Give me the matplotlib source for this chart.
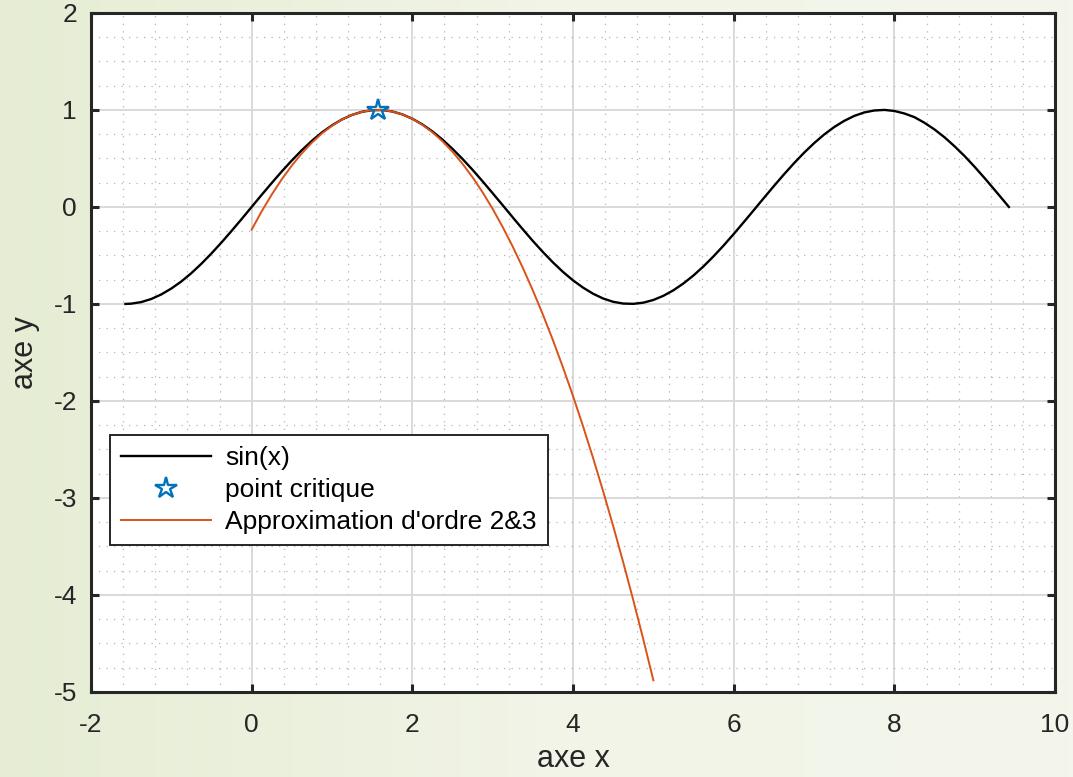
import numpy as np
import matplotlib
matplotlib.use("Agg")
import matplotlib.pyplot as plt
from matplotlib.ticker import MultipleLocator
from matplotlib.colors import LinearSegmentedColormap

x_sin = [-1.5708, -1.5, -1.375, -1.25, -1.125, -1.0, -0.875, -0.75, -0.625, -0.5,
         -0.375, -0.25, -0.125, 0.0, 0.125, 0.25, 0.375, 0.5, 0.625, 0.75, 0.875,
         1.0, 1.125, 1.25, 1.375, 1.5, 1.625, 1.75, 1.875, 2.0, 2.125, 2.25, 2.375,
         2.5, 2.625, 2.75, 2.875, 3.0, 3.125, 3.25, 3.375, 3.5, 3.625, 3.75, 3.875,
         4.0, 4.125, 4.25, 4.375, 4.5, 4.625, 4.75, 4.875, 5.0, 5.125, 5.25, 5.375,
         5.5, 5.625, 5.75, 5.875, 6.0, 6.125, 6.25, 6.375, 6.5, 6.625, 6.75, 6.875,
         7.0, 7.125, 7.25, 7.375, 7.5, 7.625, 7.75, 7.875, 8.0, 8.125, 8.25, 8.375,
         8.5, 8.625, 8.75, 8.875, 9.0, 9.125, 9.25, 9.375, 9.4248]
y_sin = [-1.000, -0.997, -0.981, -0.949, -0.902, -0.841, -0.768, -0.682, -0.585, -0.479,
         -0.366, -0.247, -0.125, 0.000, 0.125, 0.247, 0.366, 0.479, 0.585, 0.682, 0.768,
         0.841, 0.902, 0.949, 0.981, 0.997, 0.999, 0.984, 0.954, 0.909, 0.850, 0.778, 0.694,
         0.598, 0.494, 0.382, 0.263, 0.141, 0.017, -0.108, -0.231, -0.351, -0.465, -0.572, -0.670,
         -0.757, -0.832, -0.895, -0.944, -0.978, -0.996, -0.999, -0.987, -0.959, -0.916, -0.859, -0.788,
         -0.706, -0.612, -0.508, -0.397, -0.279, -0.157, -0.033, 0.092, 0.215, 0.335, 0.450, 0.558,
         0.657, 0.746, 0.823, 0.887, 0.938, 0.974, 0.994, 1.000, 0.989, 0.963, 0.925, 0.867,
         0.798, 0.717, 0.624, 0.523, 0.412, 0.295, 0.173, 0.050, 0.000]

# approximation curve (order 2 & 3 around the critical point)
x_approx = [0.0, 0.125, 0.25, 0.375, 0.5, 0.625, 0.75, 0.875, 1.0, 1.125, 1.25,
            1.375, 1.5, 1.625, 1.75, 1.875, 2.0, 2.125, 2.25, 2.375, 2.5, 2.625,
            2.75, 2.875, 3.0, 3.125, 3.25, 3.375, 3.5, 3.625, 3.75, 3.875, 4.0,
            4.125, 4.25, 4.375, 4.5, 4.625, 4.75, 4.875, 5.0]
y_approx = [-0.234, -0.045, 0.128, 0.285, 0.427, 0.553, 0.663, 0.758, 0.837, 0.901, 0.949,
            0.981, 0.997, 0.999, 0.984, 0.954, 0.908, 0.846, 0.769, 0.677, 0.568, 0.444,
            0.305, 0.150, -0.021, -0.208, -0.410, -0.628, -0.861, -1.110, -1.374, -1.655, -1.950,
            -2.262, -2.589, -2.932, -3.290, -3.664, -4.054, -4.459, -4.880]

# critical point
x_crit = [1.5708]
y_crit = [1.0]

x_ticks = [-2, 0, 2, 4, 6, 8, 10]
y_ticks = [2, 1, 0, -1, -2, -3, -4, -5]
x_ticklabels = ["-2", "0", "2", "4", "6", "8", "10"]
y_ticklabels = ["2", "1", "0", "-1", "-2", "-3", "-4", "-5"]

plt.rcParams["font.family"] = ["Liberation Sans", "DejaVu Sans"]

fig = plt.figure(figsize=(10.73, 7.77), dpi=100)

# slide-like light green background gradient
bg = fig.add_axes([0, 0, 1, 1], zorder=-10)
grad = np.linspace(0, 1, 256).reshape(1, -1)
cmap = LinearSegmentedColormap.from_list("bg", ["#e6edd4", "#f1f4e6", "#f4f6ec"])
bg.imshow(grad, aspect="auto", cmap=cmap, extent=[0, 1, 0, 1])
bg.axis("off")

ax = fig.add_axes([0.0848, 0.1094, 0.8985, 0.874])
ax.set_facecolor("white")

ax.plot(x_sin, y_sin, color="black", linewidth=1.7, label="sin(x)", zorder=3)
ax.plot(x_crit, y_crit, linestyle="none", marker="*", markersize=16,
        markerfacecolor="none", markeredgecolor="#0072BD", markeredgewidth=1.7,
        label="point critique", zorder=5)
ax.plot(x_approx, y_approx, color="#D95319", linewidth=1.4,
        label="Approximation d'ordre 2&3", zorder=4)

ax.set_xlim(-2, 10)
ax.set_ylim(-5, 2)
ax.set_xticks(x_ticks, x_ticklabels)
ax.set_yticks(y_ticks, y_ticklabels)
ax.xaxis.set_minor_locator(MultipleLocator(0.4))
ax.yaxis.set_minor_locator(MultipleLocator(0.25))

ax.grid(True, which="major", color="#d9d9d9", linewidth=1.4, linestyle="-")
ax.grid(True, which="minor", color="#b5b5b5", linewidth=0.9, linestyle=(0, (1, 5)))
ax.set_axisbelow(True)

for s in ax.spines.values():
    s.set_color("#262626")
    s.set_linewidth(2.2)

ax.tick_params(which="major", direction="in", length=6, width=2.2, color="#262626",
               top=True, right=True, labelsize=19, labelcolor="#262626")
ax.tick_params(axis="x", which="major", pad=15)
ax.tick_params(axis="y", which="major", pad=10)
ax.tick_params(which="minor", length=0, top=True, right=True)

ax.set_xlabel("axe x", fontsize=22, color="#262626", labelpad=5)
ax.set_ylabel("axe y", fontsize=22, color="#262626", labelpad=10)

leg = ax.legend(loc="lower left", bbox_to_anchor=(0.0197, 0.2165), borderaxespad=0,
                fontsize=19, handlelength=3.4, handletextpad=0.55, borderpad=0.42,
                labelspacing=0.3, fancybox=False, framealpha=1, edgecolor="#262626")
leg.get_frame().set_linewidth(1.4)

fig.savefig("out.png", dpi=100)
plt.close(fig)
